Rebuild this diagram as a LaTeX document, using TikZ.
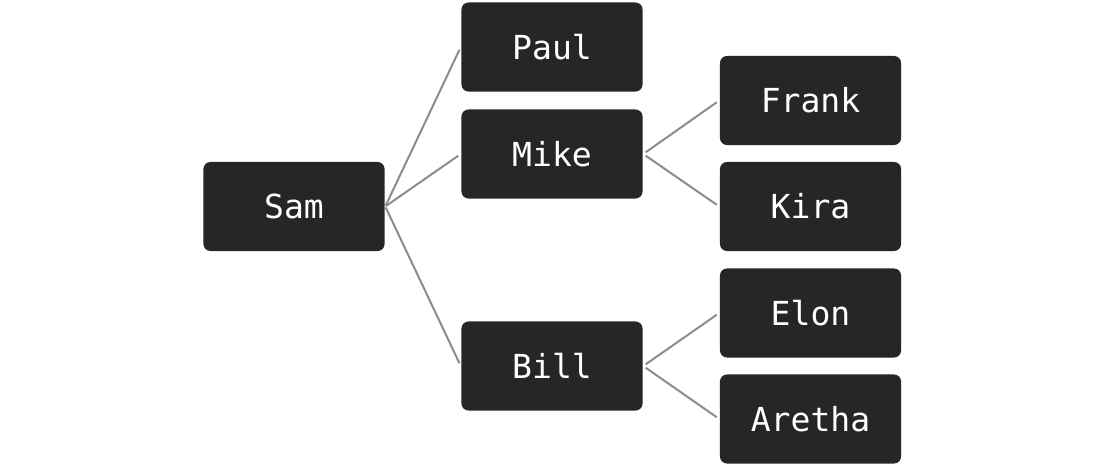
\documentclass[tikz,border=0pt]{standalone}
\usepackage{fontspec}
\setmonofont{DejaVu Sans Mono}
\usepackage{tikz}

\tikzset{
  person/.style={fill={rgb,255:red,38;green,38;blue,38}, rounded corners=0.07cm, text=white,
    minimum width=1.81cm, minimum height=0.89cm, inner sep=0pt,
    font=\ttfamily\fontsize{9.4}{11}\selectfont},
  branch/.style={draw={rgb,255:red,140;green,140;blue,140}, line width=0.02cm,
    shorten >=0.03cm, shorten <=0.01cm}
}

\begin{document}
\begin{tikzpicture}[x=0.01cm,y=-0.01cm]
  \useasboundingbox (0,0) rectangle (1104,467);
  \node[person] (sam) at (294,206.5) {Sam};
  \node[person] (paul) at (552,47) {Paul};
  \node[person] (mike) at (552,154) {Mike};
  \node[person] (bill) at (552,366) {Bill};
  \node[person] (frank) at (810.5,100.5) {Frank};
  \node[person] (kira) at (810.5,206.5) {Kira};
  \node[person] (elon) at (810.5,313) {Elon};
  \node[person] (aretha) at (810.5,419) {Aretha};
  \draw[branch] (sam.east) -- (paul.west);
  \draw[branch] (sam.east) -- (mike.west);
  \draw[branch] (sam.east) -- (bill.west);
  \draw[branch, shorten <=0.03cm] (mike.east) -- (frank.west);
  \draw[branch, shorten <=0.03cm] (mike.east) -- (kira.west);
  \draw[branch, shorten <=0.03cm] (bill.east) -- (elon.west);
  \draw[branch, shorten <=0.03cm] (bill.east) -- (aretha.west);
\end{tikzpicture}
\end{document}
